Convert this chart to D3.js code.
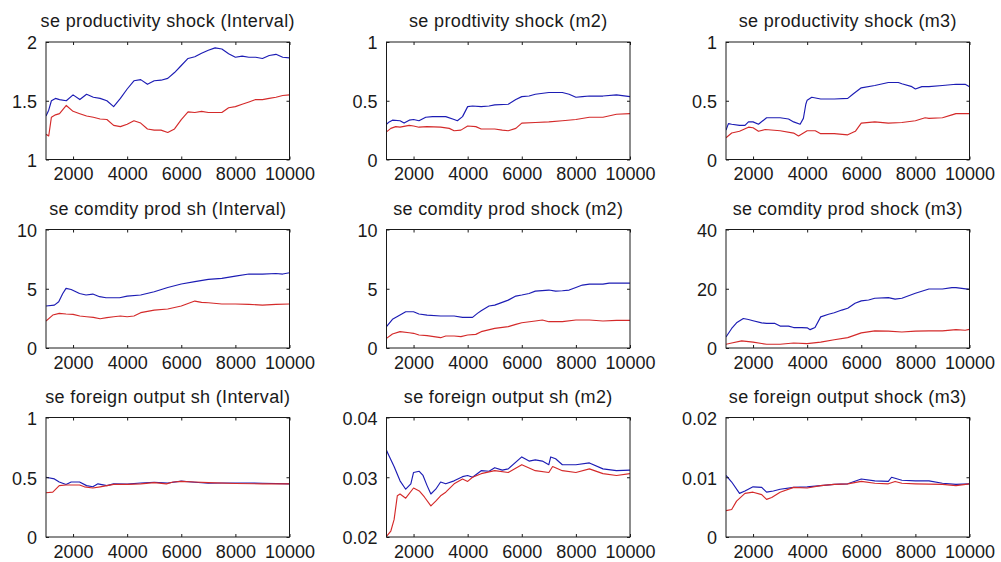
<!DOCTYPE html>
<html><head><meta charset="utf-8">
<script src="https://cdn.jsdelivr.net/npm/d3@7"></script>
<style>body{margin:0;background:#fff}</style>
</head><body><svg id="c" width="1001" height="562"></svg>
<script>
// ---------- data ----------
const titles = [
  "se productivity shock (Interval)", "se prodtivity shock (m2)", "se productivity shock (m3)",
  "se comdity prod sh (Interval)", "se comdity prod shock (m2)", "se comdity prod shock (m3)",
  "se foreign output sh (Interval)", "se foreign output sh (m2)", "se foreign output shock (m3)"
];
const xDomain = [1000, 10000];
const xTicks = [2000, 4000, 6000, 8000, 10000];
const yDomains = [[1,2],[0,1],[0,1],[0,10],[0,10],[0,40],[0,1],[0.02,0.04],[0,0.02]];
const yTicks = [[1,1.5,2],[0,0.5,1],[0,0.5,1],[0,5,10],[0,5,10],[0,20,40],[0,0.5,1],[0.02,0.03,0.04],[0,0.01,0.02]];

const prodIntervalBlue = [[1000,1.37],[1100,1.42],[1200,1.50],[1350,1.52],[1500,1.51],[1750,1.50],[2000,1.55],[2250,1.51],[2500,1.555],[2750,1.53],[3000,1.52],[3250,1.50],[3500,1.45],[3750,1.52],[4000,1.60],[4250,1.67],[4500,1.68],[4750,1.64],[5000,1.67],[5250,1.675],[5500,1.69],[5750,1.74],[6000,1.80],[6250,1.86],[6500,1.875],[6750,1.905],[7000,1.93],[7250,1.95],[7500,1.94],[7750,1.90],[8000,1.87],[8250,1.88],[8500,1.87],[8750,1.87],[9000,1.86],[9250,1.885],[9500,1.895],[9750,1.87],[10000,1.865]];
const prodIntervalRed = [[1000,1.215],[1100,1.20],[1200,1.36],[1350,1.38],[1500,1.39],[1750,1.46],[2000,1.41],[2250,1.39],[2500,1.37],[2750,1.36],[3000,1.345],[3250,1.34],[3500,1.29],[3750,1.28],[4000,1.30],[4250,1.33],[4500,1.31],[4750,1.26],[5000,1.25],[5250,1.25],[5500,1.23],[5750,1.26],[6000,1.34],[6250,1.405],[6500,1.40],[6750,1.41],[7000,1.40],[7250,1.40],[7500,1.40],[7750,1.44],[8000,1.45],[8250,1.47],[8500,1.49],[8750,1.51],[9000,1.51],[9250,1.52],[9500,1.53],[9750,1.545],[10000,1.55]];

const prodM2Blue = [[1000,0.30],[1100,0.32],[1220,0.335],[1500,0.33],[1650,0.31],[1840,0.335],[2000,0.34],[2200,0.33],[2450,0.36],[2700,0.365],[3190,0.365],[3500,0.34],[3620,0.33],[3810,0.365],[4000,0.45],[4180,0.455],[4500,0.45],[4790,0.455],[5000,0.465],[5500,0.47],[5780,0.51],[6000,0.535],[6270,0.54],[6500,0.555],[7000,0.57],[7500,0.57],[7750,0.555],[8000,0.53],[8240,0.535],[8500,0.54],[9000,0.54],[9500,0.55],[10000,0.535]];
const prodM2Red = [[1000,0.235],[1160,0.265],[1340,0.28],[1500,0.275],[1840,0.29],[2000,0.285],[2200,0.275],[2500,0.28],[3000,0.275],[3320,0.265],[3500,0.245],[3750,0.25],[4000,0.285],[4300,0.28],[4500,0.26],[5000,0.26],[5280,0.25],[5500,0.245],[5780,0.265],[6000,0.31],[6500,0.315],[7000,0.32],[7500,0.33],[8000,0.34],[8500,0.36],[9000,0.36],[9500,0.385],[10000,0.39]];

const prodM3Blue = [[1000,0.25],[1090,0.305],[1210,0.30],[1500,0.29],[1700,0.29],[1830,0.32],[2000,0.32],[2200,0.30],[2500,0.355],[3000,0.355],[3310,0.345],[3500,0.32],[3740,0.30],[3860,0.35],[3950,0.47],[4000,0.505],[4170,0.53],[4500,0.515],[5000,0.515],[5500,0.52],[5710,0.56],[6000,0.61],[6500,0.63],[7000,0.655],[7370,0.655],[7500,0.645],[7870,0.62],[8000,0.60],[8240,0.62],[8500,0.62],[9000,0.63],[9500,0.64],[9840,0.64],[10000,0.62]];
const prodM3Red = [[1000,0.185],[1210,0.225],[1500,0.24],[1830,0.275],[2000,0.27],[2200,0.24],[2450,0.255],[3000,0.245],[3500,0.225],[3680,0.20],[4000,0.245],[4300,0.245],[4500,0.22],[5000,0.22],[5500,0.21],[5780,0.24],[6000,0.31],[6500,0.32],[7000,0.31],[7500,0.315],[8000,0.33],[8360,0.355],[8500,0.35],[9000,0.355],[9350,0.38],[9500,0.39],[10000,0.39]];

const comIntervalBlue = [[1000,3.54],[1310,3.62],[1470,3.9],[1620,4.6],[1740,5.03],[1930,4.94],[2240,4.6],[2480,4.47],[2730,4.55],[2980,4.33],[3220,4.24],[3530,4.24],[3720,4.24],[4000,4.38],[4500,4.47],[5000,4.75],[5500,5.11],[6000,5.4],[6500,5.6],[7000,5.79],[7500,5.87],[8000,6.07],[8500,6.24],[9000,6.24],[9500,6.29],[9750,6.24],[10000,6.35]];
const comIntervalRed = [[1000,2.27],[1250,2.78],[1490,2.92],[1740,2.87],[2000,2.84],[2250,2.70],[2500,2.64],[2750,2.58],[3000,2.47],[3250,2.56],[3500,2.64],[3750,2.70],[4000,2.64],[4250,2.70],[4500,2.98],[5000,3.2],[5500,3.29],[6000,3.54],[6250,3.76],[6500,3.96],[6750,3.85],[7000,3.82],[7500,3.71],[8000,3.71],[8500,3.68],[9000,3.62],[9500,3.68],[10000,3.71]];

const comM2Blue = [[1000,1.8],[1220,2.42],[1500,2.78],[1710,3.06],[2000,3.06],[2200,2.87],[2500,2.78],[3000,2.70],[3500,2.70],[3810,2.58],[4000,2.58],[4180,2.58],[4360,2.92],[4500,3.15],[4790,3.54],[5000,3.62],[5500,4.04],[5780,4.38],[6000,4.47],[6270,4.6],[6500,4.8],[7000,4.89],[7250,4.8],[7500,4.83],[7750,4.89],[8000,5.11],[8240,5.31],[8500,5.39],[9000,5.39],[9230,5.48],[9500,5.48],[10000,5.48]];
const comM2Red = [[1000,0.81],[1220,1.18],[1500,1.38],[1840,1.29],[2000,1.24],[2200,1.10],[2500,1.04],[3000,0.87],[3190,1.01],[3500,1.01],[3750,0.96],[4000,1.10],[4300,1.15],[4500,1.38],[5000,1.66],[5500,1.80],[5780,1.99],[6000,2.13],[6500,2.28],[6760,2.36],[7000,2.22],[7500,2.22],[8000,2.36],[8500,2.36],[9000,2.28],[9500,2.33],[10000,2.33]];

const comM3Blue = [[1000,3.7],[1210,6.6],[1390,8.5],[1640,9.97],[1830,9.6],[2000,9.2],[2320,8.5],[2500,8.3],[2810,8.3],[3000,7.4],[3310,7.4],[3500,6.9],[3800,6.9],[4000,6.8],[4110,6.2],[4290,6.9],[4500,10.5],[4790,11.4],[5000,11.9],[5280,12.8],[5500,13.4],[5770,15.1],[6000,15.9],[6270,16.2],[6500,16.8],[7000,17.0],[7250,16.5],[7500,16.8],[8000,18.5],[8500,19.9],[9000,19.9],[9350,20.4],[9500,20.4],[10000,19.8]];
const comM3Red = [[1000,1.25],[1210,1.7],[1580,2.4],[2000,2.0],[2320,1.5],[2500,1.25],[3000,1.25],[3500,1.7],[4000,1.5],[4500,2.0],[5000,2.8],[5500,3.5],[6000,5.1],[6500,5.8],[7000,5.7],[7500,5.4],[8000,5.7],[8500,5.8],[9000,5.8],[9500,6.2],[9840,6.0],[10000,6.3]];

const forIntervalBlue = [[1000,0.50],[1310,0.486],[1490,0.46],[1740,0.44],[1930,0.46],[2240,0.46],[2500,0.43],[2730,0.42],[2920,0.445],[3250,0.43],[3500,0.445],[4000,0.442],[4500,0.452],[5000,0.458],[5500,0.452],[6000,0.468],[6500,0.458],[7000,0.45],[7500,0.452],[8000,0.452],[8500,0.452],[9000,0.45],[10000,0.445]];
const forIntervalRed = [[1000,0.37],[1250,0.375],[1490,0.43],[1740,0.435],[2000,0.435],[2240,0.435],[2420,0.42],[2730,0.41],[3000,0.42],[3500,0.44],[4000,0.44],[4500,0.445],[5000,0.455],[5450,0.445],[5700,0.46],[6000,0.465],[6500,0.46],[7000,0.455],[8000,0.448],[9000,0.445],[10000,0.445]];

const forM2Blue = [[1000,0.0345],[1100,0.0335],[1280,0.0318],[1500,0.0294],[1710,0.0280],[1900,0.0289],[2000,0.0308],[2210,0.0310],[2350,0.0303],[2500,0.0286],[2640,0.0272],[2820,0.0280],[3000,0.0292],[3190,0.0289],[3500,0.0294],[3810,0.0301],[4000,0.0303],[4180,0.0300],[4500,0.0311],[4790,0.0310],[5000,0.0316],[5280,0.0312],[5500,0.0314],[6000,0.0334],[6270,0.0327],[6500,0.0329],[6760,0.0327],[7000,0.0321],[7070,0.0334],[7250,0.0331],[7500,0.0321],[8000,0.0321],[8500,0.0324],[9000,0.0314],[9500,0.0311],[10000,0.0312]];
const forM2Red = [[1000,0.0201],[1160,0.0210],[1280,0.0229],[1400,0.0269],[1500,0.0272],[1710,0.0265],[2000,0.0282],[2210,0.0277],[2400,0.0267],[2640,0.0252],[2820,0.0260],[3000,0.0269],[3190,0.0275],[3500,0.0289],[3810,0.0297],[4000,0.0293],[4180,0.0300],[4500,0.0306],[5000,0.0311],[5500,0.0308],[6000,0.0321],[6500,0.0311],[7000,0.0308],[7140,0.0318],[7500,0.0311],[8000,0.0308],[8500,0.0314],[9000,0.0306],[9500,0.0303],[10000,0.0306]];

const forM3Blue = [[1000,0.0103],[1210,0.0092],[1500,0.0073],[1700,0.0077],[2000,0.0084],[2320,0.0083],[2500,0.0075],[2750,0.0077],[3000,0.0080],[3500,0.0083],[4000,0.0084],[4500,0.0086],[5000,0.0088],[5500,0.0089],[6000,0.0097],[6500,0.0094],[7000,0.0093],[7120,0.0100],[7500,0.0095],[8000,0.0094],[8500,0.0094],[9000,0.0090],[9500,0.0088],[10000,0.0089]];
const forM3Red = [[1000,0.0044],[1210,0.0046],[1390,0.0060],[1700,0.0073],[2000,0.0075],[2320,0.0071],[2500,0.0063],[2690,0.0066],[3000,0.0075],[3500,0.0083],[4000,0.0082],[4500,0.0086],[5000,0.0088],[5500,0.0089],[6000,0.0093],[6500,0.0090],[7000,0.0089],[7250,0.0093],[7500,0.0090],[8000,0.0089],[9000,0.0088],[9500,0.0086],[10000,0.0089]];

const blueSeries = [prodIntervalBlue, prodM2Blue, prodM3Blue, comIntervalBlue, comM2Blue, comM3Blue, forIntervalBlue, forM2Blue, forM3Blue];
const redSeries = [prodIntervalRed, prodM2Red, prodM3Red, comIntervalRed, comM2Red, comM3Red, forIntervalRed, forM2Red, forM3Red];

// ---------- layout ----------
const colLeft = [46, 386.5, 726];
const colWidth = 243.5;
const rowTop = [42, 229.5, 417.5];
const rowHeight = [117.5, 118.5, 119.5];
const FONT = "'Liberation Sans', Arial, Helvetica, sans-serif";
const BLUE = "#1c1cb4", RED = "#d42a2a", INK = "#1a1a1a";
const TL = 3;

const svg = d3.select("#c");
svg.append("rect").attr("width",1001).attr("height",562).attr("fill","#fff");

titles.forEach((title, i) => {
  const r = Math.floor(i / 3), c = i % 3;
  const w = colWidth, h = rowHeight[r];
  const g = svg.append("g").attr("transform", `translate(${colLeft[c]},${rowTop[r]})`);
  const x = d3.scaleLinear().domain(xDomain).range([0, w]);
  const y = d3.scaleLinear().domain(yDomains[i]).range([h, 0]);

  const clipId = "clip" + i;
  g.append("clipPath").attr("id", clipId).append("rect").attr("x",0).attr("y",-1).attr("width",w).attr("height",h+2);

  const line = d3.line().x(d => x(d[0])).y(d => y(d[1]));
  const lg = g.append("g").attr("clip-path", `url(#${clipId})`);
  lg.append("path").datum(blueSeries[i]).attr("d", line).attr("fill","none").attr("stroke",BLUE).attr("stroke-width",1.15).attr("stroke-linejoin","round");
  lg.append("path").datum(redSeries[i]).attr("d", line).attr("fill","none").attr("stroke",RED).attr("stroke-width",1.15).attr("stroke-linejoin","round");

  // axes (MATLAB style: inward ticks on all four sides)
  const fmt = d => String(d);
  const bottom = g.append("g").attr("transform", `translate(0,${h})`)
    .call(d3.axisBottom(x).tickValues(xTicks).tickSizeInner(-TL).tickSizeOuter(0).tickFormat(fmt));
  const top = g.append("g").call(d3.axisTop(x).tickValues(xTicks).tickSizeInner(-TL).tickSizeOuter(0).tickFormat(""));
  const left = g.append("g").call(d3.axisLeft(y).tickValues(yTicks[i]).tickSizeInner(-TL).tickSizeOuter(0).tickPadding(9).tickFormat(fmt));
  const right = g.append("g").attr("transform", `translate(${w},0)`)
    .call(d3.axisRight(y).tickValues(yTicks[i]).tickSizeInner(-TL).tickSizeOuter(0).tickFormat(""));
  [bottom, top, left, right].forEach(a => {
    a.select(".domain").remove();
    a.selectAll("line").attr("stroke", INK).attr("stroke-width",1);
    a.selectAll("text").attr("fill", INK).style("font-family", FONT).style("font-size","18px");
  });
  bottom.selectAll("text").attr("dy","0.71em").attr("y", 8);
  left.selectAll("text").attr("dy","0.38em");

  g.append("rect").attr("x",0).attr("y",0).attr("width",w).attr("height",h)
    .attr("fill","none").attr("stroke",INK).attr("stroke-width",1);

  g.append("text").attr("x", w/2).attr("y", -15).attr("text-anchor","middle")
    .attr("fill", INK).style("font-family", FONT).style("font-size","18px").style("letter-spacing","0.35px")
    .text(title);
});
</script></body></html>
